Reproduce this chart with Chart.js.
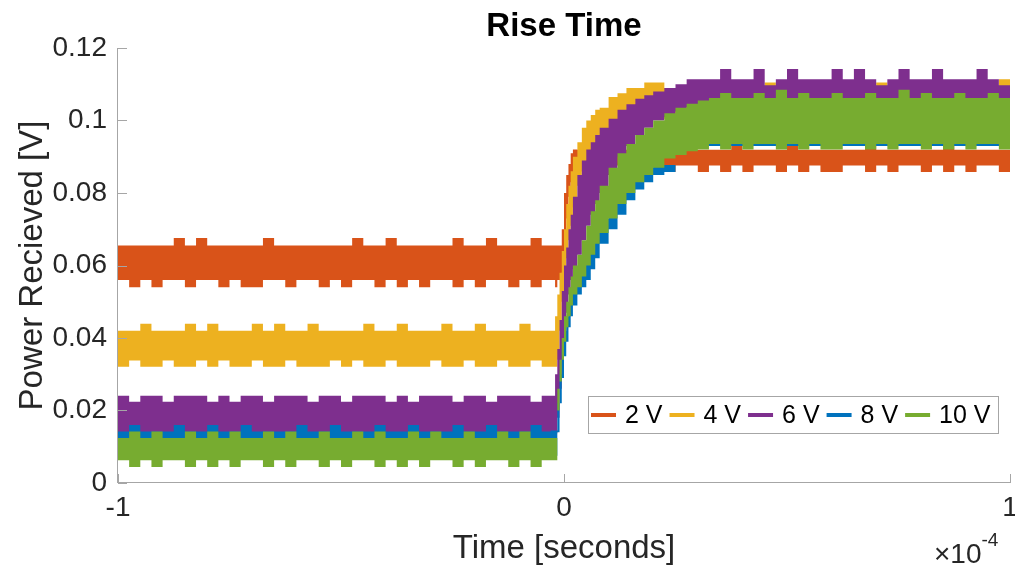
<!DOCTYPE html>
<html>
<head>
<meta charset="utf-8">
<title>Rise Time</title>
<script src="https://cdn.jsdelivr.net/npm/chart.js@4.4.1/dist/chart.umd.min.js"></script>
<style>
  html, body { margin: 0; padding: 0; background: #fff; }
  #wrap { width: 1015px; height: 570px; }
</style>
</head>
<body>
<div id="wrap"><canvas id="riseChart" width="1015" height="570"></canvas></div>
<script>
// time axis, in units of 1e-4 s (the x10^-4 is drawn at the axis end)
const times = [
  -1, -0.975, -0.95, -0.925, -0.9, -0.875, -0.85, -0.825, -0.8, -0.775,
  -0.75, -0.725, -0.7, -0.675, -0.65, -0.625, -0.6, -0.575, -0.55, -0.525,
  -0.5, -0.475, -0.45, -0.425, -0.4, -0.375, -0.35, -0.325, -0.3, -0.275,
  -0.25, -0.225, -0.2, -0.175, -0.15, -0.125, -0.1, -0.075, -0.05,
  -0.03, -0.02, -0.015, -0.01, -0.005, 0, 0.005, 0.01, 0.015, 0.02,
  0.03, 0.04, 0.05, 0.06, 0.07, 0.08, 0.1, 0.12, 0.14, 0.16,
  0.18, 0.2, 0.225, 0.25, 0.275, 0.3,
  0.325, 0.35, 0.375, 0.4, 0.425, 0.45, 0.475, 0.5, 0.525, 0.55,
  0.575, 0.6, 0.625, 0.65, 0.675, 0.7, 0.725, 0.75, 0.775, 0.8,
  0.825, 0.85, 0.875, 0.9, 0.925, 0.95, 0.975, 1
];

const seriesLabels = ['2 V', '4 V', '6 V', '8 V', '10 V'];
const seriesColors = ['#D95319', '#EDB120', '#7E2F8E', '#0072BD', '#77AC30'];
const yTicks = [0, 0.02, 0.04, 0.06, 0.08, 0.1, 0.12];
const xTicks = [-1, 0, 1];

// each noisy trace is kept as its top and bottom edge [V]
const upper2V = [
  0.0655, 0.0655, 0.0655, 0.0655, 0.0655, 0.0676, 0.0655, 0.0676, 0.0655, 0.0655,
  0.0655, 0.0655, 0.0655, 0.0676, 0.0655, 0.0655, 0.0655, 0.0655, 0.0655, 0.0655,
  0.0655, 0.0676, 0.0655, 0.0655, 0.0676, 0.0655, 0.0655, 0.0655, 0.0655, 0.0655,
  0.0676, 0.0655, 0.0655, 0.0676, 0.0655, 0.0655, 0.0655, 0.0676, 0.0655,
  0.0655, 0.0655, 0.0655, 0.0655, 0.070, 0.080, 0.085, 0.088, 0.091, 0.092,
  0.0919, 0.0919, 0.0919, 0.0919, 0.0919, 0.0919, 0.0919, 0.0919, 0.0919, 0.0919,
  0.0919, 0.0919, 0.0919, 0.0919, 0.0919, 0.0919,
  0.0919, 0.0919, 0.0935, 0.0919, 0.0919, 0.0919, 0.0919, 0.0935, 0.0919, 0.0919,
  0.0919, 0.0919, 0.0919, 0.0919, 0.0935, 0.0919, 0.0919, 0.0919, 0.0919, 0.0919,
  0.0919, 0.0935, 0.0919, 0.0919, 0.0919, 0.0919, 0.0919, 0.0919
];
const lower2V = [
  0.056, 0.054, 0.056, 0.054, 0.056, 0.056, 0.054, 0.056, 0.056, 0.054,
  0.056, 0.054, 0.054, 0.056, 0.056, 0.054, 0.056, 0.056, 0.054, 0.056,
  0.054, 0.056, 0.056, 0.054, 0.056, 0.054, 0.056, 0.054, 0.056, 0.056,
  0.054, 0.056, 0.054, 0.056, 0.056, 0.054, 0.056, 0.054, 0.056,
  0.056, 0.054, 0.056, 0.056, 0.058, 0.066, 0.073, 0.079, 0.083, 0.086,
  0.0876, 0.0858, 0.0876, 0.0876, 0.0876, 0.0876, 0.0876, 0.0876, 0.0876, 0.0858,
  0.0876, 0.0876, 0.0858, 0.0876, 0.0876, 0.0858,
  0.0876, 0.0858, 0.0876, 0.0858, 0.0876, 0.0876, 0.0858, 0.0876, 0.0858, 0.0876,
  0.0858, 0.0858, 0.0876, 0.0876, 0.0858, 0.0876, 0.0858, 0.0876, 0.0876, 0.0858,
  0.0876, 0.0858, 0.0876, 0.0858, 0.0876, 0.0876, 0.0858, 0.0876
];

const upper4V = [
  0.042, 0.042, 0.0439, 0.042, 0.042, 0.042, 0.0439, 0.042, 0.0439, 0.042,
  0.042, 0.042, 0.0439, 0.042, 0.0439, 0.042, 0.042, 0.0439, 0.042, 0.042,
  0.042, 0.042, 0.0439, 0.042, 0.042, 0.0439, 0.042, 0.042, 0.042, 0.0439,
  0.042, 0.042, 0.0439, 0.042, 0.042, 0.042, 0.0439, 0.042, 0.042,
  0.042, 0.046, 0.052, 0.058, 0.064, 0.070, 0.077, 0.082, 0.086, 0.090,
  0.094, 0.098, 0.100, 0.1015, 0.103, 0.1035, 0.1065, 0.1075, 0.109, 0.109,
  0.1105, 0.1105, 0.109, 0.109, 0.109, 0.109,
  0.109, 0.1105, 0.109, 0.109, 0.109, 0.1105, 0.109, 0.109, 0.109, 0.109,
  0.1105, 0.109, 0.109, 0.109, 0.109, 0.1105, 0.109, 0.109, 0.109, 0.109,
  0.109, 0.1105, 0.109, 0.109, 0.109, 0.109, 0.1114, 0.109
];
const lower4V = [
  0.0321, 0.0338, 0.0321, 0.0321, 0.0338, 0.0321, 0.0321, 0.0338, 0.0321, 0.0338,
  0.0321, 0.0321, 0.0338, 0.0321, 0.0321, 0.0338, 0.0321, 0.0321, 0.0321, 0.0338,
  0.0321, 0.0338, 0.0321, 0.0321, 0.0338, 0.0321, 0.0321, 0.0321, 0.0338, 0.0321,
  0.0321, 0.0338, 0.0321, 0.0321, 0.0338, 0.0321, 0.0321, 0.0338, 0.0321,
  0.0321, 0.0321, 0.034, 0.042, 0.050, 0.057, 0.062, 0.067, 0.071, 0.076,
  0.082, 0.086, 0.089, 0.091, 0.093, 0.095, 0.0975, 0.100, 0.1005, 0.1005,
  0.1005, 0.1005, 0.1005, 0.1005, 0.1005, 0.1005,
  0.1005, 0.1005, 0.1005, 0.1005, 0.1005, 0.1005, 0.1005, 0.1005, 0.1005, 0.1005,
  0.1005, 0.1005, 0.1005, 0.1005, 0.1005, 0.1005, 0.1005, 0.1005, 0.1005, 0.1005,
  0.1005, 0.1005, 0.1005, 0.1005, 0.1005, 0.1005, 0.1005, 0.1005
];

const upper6V = [
  0.0241, 0.0224, 0.0241, 0.0241, 0.0224, 0.0241, 0.0241, 0.0241, 0.0224, 0.0241,
  0.0224, 0.0241, 0.0241, 0.0224, 0.0241, 0.0241, 0.0241, 0.0224, 0.0241, 0.0241,
  0.0224, 0.0241, 0.0241, 0.0241, 0.0224, 0.0241, 0.0224, 0.0241, 0.0241, 0.0241,
  0.0224, 0.0241, 0.0241, 0.0224, 0.0241, 0.0241, 0.0241, 0.0224, 0.0241,
  0.0241, 0.030, 0.037, 0.045, 0.053, 0.060, 0.065, 0.070, 0.074, 0.079,
  0.085, 0.089, 0.092, 0.094, 0.096, 0.098, 0.1005, 0.103, 0.1045, 0.106,
  0.107, 0.108, 0.109, 0.110, 0.1114, 0.1114,
  0.1114, 0.1142, 0.1114, 0.1114, 0.1142, 0.1097, 0.1114, 0.1142, 0.1114, 0.1114,
  0.1114, 0.1142, 0.1114, 0.1142, 0.1114, 0.1097, 0.1114, 0.1142, 0.1114, 0.1114,
  0.1142, 0.1114, 0.1114, 0.1114, 0.1142, 0.1114, 0.1097, 0.1114
];
const lower6V = [
  0.0137, 0.0137, 0.0137, 0.0137, 0.0137, 0.0137, 0.0137, 0.0137, 0.0137, 0.0137,
  0.0137, 0.0137, 0.0137, 0.0137, 0.0137, 0.0137, 0.0137, 0.0137, 0.0137, 0.0137,
  0.0137, 0.0137, 0.0137, 0.0137, 0.0137, 0.0137, 0.0137, 0.0137, 0.0137, 0.0137,
  0.0137, 0.0137, 0.0137, 0.0137, 0.0137, 0.0137, 0.0137, 0.0137, 0.0137,
  0.0137, 0.0137, 0.018, 0.026, 0.034, 0.041, 0.047, 0.052, 0.056, 0.059,
  0.063, 0.067, 0.071, 0.074, 0.077, 0.080, 0.085, 0.090, 0.093, 0.096,
  0.098, 0.100, 0.101, 0.1025, 0.1037, 0.1037,
  0.1037, 0.1037, 0.1022, 0.1037, 0.1037, 0.1037, 0.1037, 0.1022, 0.1037, 0.1037,
  0.1037, 0.1037, 0.1037, 0.1022, 0.1037, 0.1037, 0.1037, 0.1037, 0.1037, 0.1022,
  0.1037, 0.1037, 0.1037, 0.1037, 0.1022, 0.1037, 0.1037, 0.1037
];

const upper8V = [
  0.0142, 0.016, 0.0142, 0.0142, 0.0142, 0.016, 0.0142, 0.0142, 0.016, 0.0142,
  0.0142, 0.016, 0.0142, 0.0142, 0.0142, 0.0142, 0.016, 0.0142, 0.0142, 0.016,
  0.0142, 0.0142, 0.0142, 0.016, 0.0142, 0.0142, 0.016, 0.0142, 0.0142, 0.0142,
  0.016, 0.0142, 0.0142, 0.016, 0.0142, 0.0142, 0.0142, 0.016, 0.0142,
  0.0145, 0.0145, 0.022, 0.030, 0.037, 0.042, 0.046, 0.050, 0.053, 0.056,
  0.058, 0.061, 0.064, 0.067, 0.070, 0.073, 0.077, 0.081, 0.084, 0.086,
  0.087, 0.0877, 0.0877, 0.100, 0.100, 0.100,
  0.100, 0.100, 0.100, 0.100, 0.100, 0.100, 0.100, 0.100, 0.100, 0.100,
  0.100, 0.100, 0.100, 0.100, 0.100, 0.100, 0.100, 0.100, 0.100, 0.100,
  0.100, 0.100, 0.100, 0.100, 0.100, 0.100, 0.100, 0.100
];
const lower8V = [
  0.0075, 0.0075, 0.0075, 0.0075, 0.0075, 0.0075, 0.0075, 0.0075, 0.0075, 0.0075,
  0.0075, 0.0075, 0.0075, 0.0075, 0.0075, 0.0075, 0.0075, 0.0075, 0.0075, 0.0075,
  0.0075, 0.0075, 0.0075, 0.0075, 0.0075, 0.0075, 0.0075, 0.0075, 0.0075, 0.0075,
  0.0075, 0.0075, 0.0075, 0.0075, 0.0075, 0.0075, 0.0075, 0.0075, 0.0075,
  0.0075, 0.0075, 0.014, 0.022, 0.029, 0.035, 0.039, 0.043, 0.046, 0.049,
  0.052, 0.054, 0.056, 0.059, 0.062, 0.066, 0.070, 0.074, 0.078, 0.081,
  0.083, 0.085, 0.0858, 0.093, 0.093, 0.093,
  0.093, 0.093, 0.093, 0.093, 0.093, 0.093, 0.093, 0.093, 0.093, 0.093,
  0.093, 0.093, 0.093, 0.093, 0.093, 0.093, 0.093, 0.093, 0.093, 0.093,
  0.093, 0.093, 0.093, 0.093, 0.093, 0.093, 0.093, 0.093
];

const upper10V = [
  0.0124, 0.0142, 0.0124, 0.0142, 0.0124, 0.0124, 0.0142, 0.0124, 0.0142, 0.0124,
  0.0142, 0.0124, 0.0124, 0.0142, 0.0124, 0.0142, 0.0124, 0.0124, 0.0142, 0.0124,
  0.0124, 0.0142, 0.0124, 0.0142, 0.0124, 0.0124, 0.0142, 0.0124, 0.0142, 0.0124,
  0.0124, 0.0142, 0.0124, 0.0124, 0.0142, 0.0124, 0.0142, 0.0124, 0.0124,
  0.0124, 0.0124, 0.026, 0.034, 0.040, 0.046, 0.050, 0.054, 0.057, 0.060,
  0.063, 0.067, 0.071, 0.075, 0.078, 0.082, 0.087, 0.091, 0.0935, 0.096,
  0.098, 0.100, 0.102, 0.1035, 0.1046, 0.1055,
  0.1062, 0.1076, 0.1062, 0.1062, 0.1076, 0.1062, 0.1085, 0.1062, 0.1076, 0.1062,
  0.1062, 0.1076, 0.1062, 0.1062, 0.1076, 0.1062, 0.1062, 0.1085, 0.1062, 0.1076,
  0.1062, 0.1062, 0.1076, 0.1062, 0.1062, 0.1076, 0.1062, 0.1062
];
const lower10V = [
  0.0063, 0.0044, 0.0063, 0.0044, 0.0063, 0.0063, 0.0044, 0.0063, 0.0044, 0.0063,
  0.0044, 0.0063, 0.0063, 0.0044, 0.0063, 0.0044, 0.0063, 0.0063, 0.0044, 0.0063,
  0.0044, 0.0063, 0.0063, 0.0044, 0.0063, 0.0044, 0.0063, 0.0044, 0.0063, 0.0063,
  0.0044, 0.0063, 0.0044, 0.0063, 0.0063, 0.0044, 0.0063, 0.0044, 0.0063,
  0.0063, 0.0063, 0.020, 0.028, 0.034, 0.039, 0.043, 0.046, 0.049, 0.052,
  0.054, 0.057, 0.060, 0.063, 0.066, 0.069, 0.073, 0.077, 0.080, 0.083,
  0.085, 0.087, 0.0895, 0.0905, 0.0915, 0.092,
  0.0935, 0.092, 0.0935, 0.092, 0.0935, 0.0935, 0.092, 0.0935, 0.092, 0.0935,
  0.092, 0.092, 0.0935, 0.0935, 0.092, 0.0935, 0.092, 0.0935, 0.0935, 0.092,
  0.0935, 0.092, 0.0935, 0.092, 0.0935, 0.0935, 0.092, 0.0935
];

const uppers = [upper2V, upper4V, upper6V, upper8V, upper10V];
const lowers = [lower2V, lower4V, lower6V, lower8V, lower10V];

const fontFamily = '"Liberation Sans", Arial, Helvetica, sans-serif';
const textColor = '#262626';
const axisColor = '#a6a6a6';

// matlab draws the last trace on top, chart.js draws dataset 0 on top
const datasets = [];
for (let s = seriesLabels.length - 1; s >= 0; s--) {
  const lowIdx = datasets.length;
  datasets.push({
    label: seriesLabels[s] + ' bottom',
    data: times.map((t, i) => ({ x: t, y: lowers[s][i] })),
    borderWidth: 0,
    pointRadius: 0,
    stepped: true,
    fill: false
  });
  datasets.push({
    label: seriesLabels[s],
    data: times.map((t, i) => ({ x: t, y: uppers[s][i] })),
    borderWidth: 0,
    pointRadius: 0,
    stepped: true,
    backgroundColor: seriesColors[s],
    fill: lowIdx
  });
}

// inward ticks, axis lines, legend box and the x10^-4 multiplier
const matlabLook = {
  id: 'matlabLook',
  afterDraw(chart) {
    const { ctx, chartArea: a, scales: { x, y } } = chart;
    ctx.save();
    ctx.strokeStyle = axisColor;
    ctx.lineWidth = 1;
    ctx.beginPath();
    ctx.moveTo(a.left - 0.5, a.top);
    ctx.lineTo(a.left - 0.5, a.bottom);
    ctx.moveTo(a.left - 1, a.bottom - 0.5);
    ctx.lineTo(a.right + 1, a.bottom - 0.5);
    yTicks.forEach(v => {
      const py = Math.round(y.getPixelForValue(v)) + 0.5;
      ctx.moveTo(a.left, py);
      ctx.lineTo(a.left + 9, py);
    });
    xTicks.forEach(v => {
      const px = Math.round(x.getPixelForValue(v)) + 0.5;
      ctx.moveTo(px, a.bottom);
      ctx.lineTo(px, a.bottom - 9);
    });
    ctx.stroke();

    // legend
    const bx = a.right - 422, by = a.bottom - 87, bw = 410, bh = 37;
    ctx.fillStyle = '#fff';
    ctx.fillRect(bx, by, bw, bh);
    ctx.strokeStyle = '#a6a6a6';
    ctx.strokeRect(bx + 0.5, by + 0.5, bw, bh);
    ctx.font = '25px ' + fontFamily;
    ctx.textBaseline = 'middle';
    ctx.textAlign = 'left';
    let cx = bx + 3;
    const cy = by + bh / 2 + 0.5;
    seriesLabels.forEach((lab, i) => {
      ctx.strokeStyle = seriesColors[i];
      ctx.lineWidth = 4;
      ctx.beginPath();
      ctx.moveTo(cx, cy);
      ctx.lineTo(cx + 25, cy);
      ctx.stroke();
      ctx.fillStyle = '#000';
      ctx.fillText(lab, cx + 34, cy + 1);
      cx += 34 + ctx.measureText(lab).width + 7;
    });

    // exponent of the time axis
    ctx.fillStyle = textColor;
    ctx.textBaseline = 'alphabetic';
    ctx.font = '28px ' + fontFamily;
    ctx.fillText('\u00d710', a.right - 76, a.bottom + 80);
    const w = ctx.measureText('\u00d710').width;
    ctx.font = '19px ' + fontFamily;
    ctx.fillText('-4', a.right - 76 + w, a.bottom + 63);
    ctx.restore();
  }
};

const ctx = document.getElementById('riseChart').getContext('2d');
const riseChart = new Chart(ctx, {
  type: 'line',
  data: { datasets: datasets },
  options: {
    responsive: false,
    animation: false,
    events: [],
    layout: { padding: { top: 0, right: 5, bottom: 0, left: 0 } },
    plugins: {
      legend: { display: false },
      tooltip: { enabled: false },
      title: {
        display: true,
        text: 'Rise Time',
        fullSize: false,
        color: '#000',
        font: { family: fontFamily, size: 33, weight: 'bold' },
        padding: { top: 7, bottom: 1.4 }
      }
    },
    scales: {
      x: {
        type: 'linear',
        min: -1,
        max: 1,
        grid: { display: false, drawTicks: false },
        border: { display: false },
        ticks: {
          stepSize: 1,
          padding: 8,
          maxRotation: 0,
          color: textColor,
          font: { family: fontFamily, size: 28 },
          callback: v => String(v)
        },
        title: {
          display: true,
          text: 'Time [seconds]',
          color: textColor,
          font: { family: fontFamily, size: 33 },
          padding: { top: 0, bottom: 1 }
        },
        afterFit: s => { s.height = 87; s.paddingLeft = 0; s.paddingRight = 0; }
      },
      y: {
        min: 0,
        max: 0.12,
        grid: { display: false, drawTicks: false },
        border: { display: false },
        ticks: {
          stepSize: 0.02,
          padding: 11,
          color: textColor,
          font: { family: fontFamily, size: 28 },
          callback: v => String(+v.toFixed(2))
        },
        title: {
          display: true,
          text: 'Power Recieved [V]',
          color: textColor,
          font: { family: fontFamily, size: 33 },
          padding: { top: 13, bottom: 0 }
        },
        afterFit: s => { s.width = 118; s.paddingTop = 0; s.paddingBottom = 0; }
      }
    }
  },
  plugins: [matlabLook]
});
</script>
</body>
</html>
